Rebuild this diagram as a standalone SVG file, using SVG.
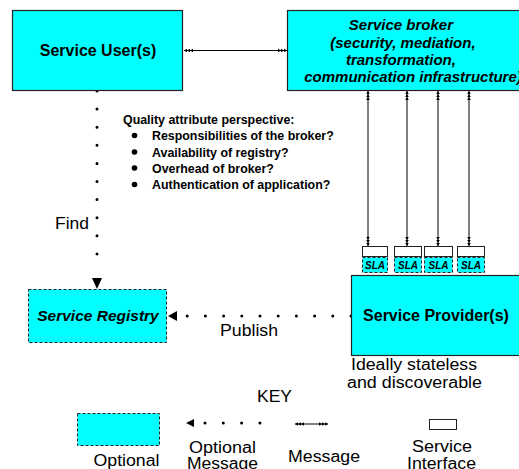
<svg xmlns="http://www.w3.org/2000/svg" width="519" height="469" viewBox="0 0 519 469">
<style>
.box{fill:#00ffff;stroke:#222;stroke-width:1.2}
.opt{fill:#00ffff;stroke:#222;stroke-width:1;stroke-dasharray:3 2}
.iface{fill:#fff;stroke:#222;stroke-width:1}
.msg{stroke:#000;stroke-width:1;fill:none}
.dots{stroke:#000;stroke-width:3;stroke-linecap:round;fill:none}
.t{font-family:"Liberation Sans",Arial,sans-serif;fill:#000}
.n{font-size:16px}
.b{font-weight:bold}
.i{font-style:italic}
</style>
<defs>
<marker id="dbl" viewBox="0 0 9 6" refX="9" refY="3" markerWidth="9" markerHeight="6" markerUnits="userSpaceOnUse" orient="auto-start-reverse">
<path d="M9,3 L6,1.2 L6,4.8 Z M6,3 L3,1.2 L3,4.8 Z M3,3 L0,1.2 L0,4.8 Z" fill="#000"/>
</marker>
</defs>
<g id="connectors">
<line class="msg" x1="184" y1="50.5" x2="287" y2="50.5" marker-start="url(#dbl)" marker-end="url(#dbl)"/>
<line class="msg" x1="368" y1="91" x2="368" y2="246" marker-start="url(#dbl)" marker-end="url(#dbl)"/>
<line class="msg" x1="407" y1="91" x2="407" y2="246" marker-start="url(#dbl)" marker-end="url(#dbl)"/>
<line class="msg" x1="438" y1="91" x2="438" y2="246" marker-start="url(#dbl)" marker-end="url(#dbl)"/>
<line class="msg" x1="469" y1="91" x2="469" y2="246" marker-start="url(#dbl)" marker-end="url(#dbl)"/>
<path class="dots" d="M97,91 V272" stroke-dasharray="0 18.1"/>
<polygon points="92,278 102,278 97,289" fill="#000"/>
<path class="dots" d="M351,316 H187" stroke-dasharray="0 18.2"/>
<polygon points="168,316 177,311 177,321" fill="#000"/>
<text class="t n" x="55" y="228.5" textLength="34" lengthAdjust="spacingAndGlyphs">Find</text>
<text class="t n" x="220" y="336" textLength="58" lengthAdjust="spacingAndGlyphs">Publish</text>
</g>
<g id="service-user">
<rect class="box" x="12.5" y="10.5" width="170" height="80"/>
<text class="t b" x="98" y="55.5" font-size="16" text-anchor="middle">Service User(s)</text>
</g>
<g id="service-broker">
<rect class="box" x="287.5" y="10.5" width="240" height="80"/>
<text class="t b i" font-size="15" text-anchor="middle">
<tspan x="403" y="30">Service broker</tspan>
<tspan x="405" y="47.5">(security, mediation,</tspan>
<tspan x="403" y="65">transformation,</tspan>
<tspan x="413" y="81.5">communication infrastructure)</tspan>
</text>
</g>
<g id="service-registry">
<rect class="opt" x="28.5" y="289.5" width="138" height="53"/>
<text class="t b i" x="98" y="321" font-size="15.5" text-anchor="middle">Service Registry</text>
</g>
<g id="service-provider">
<rect class="box" x="351.5" y="275.5" width="180" height="80"/>
<text class="t b" x="436" y="321" font-size="16" text-anchor="middle">Service Provider(s)</text>
<text class="t n" x="351" y="370" textLength="126" lengthAdjust="spacingAndGlyphs">Ideally stateless</text>
<text class="t n" x="347" y="388" textLength="135" lengthAdjust="spacingAndGlyphs">and discoverable</text>
</g>
<g id="interfaces">
<rect class="iface" x="362.5" y="246.5" width="25" height="10"/>
<rect class="iface" x="394.5" y="246.5" width="27" height="10"/>
<rect class="iface" x="424.5" y="246.5" width="28" height="10"/>
<rect class="iface" x="457.5" y="246.5" width="27" height="10"/>
<rect class="opt" x="362.5" y="257.5" width="25" height="15"/>
<rect class="opt" x="394.5" y="257.5" width="27" height="15"/>
<rect class="opt" x="424.5" y="257.5" width="28" height="15"/>
<rect class="opt" x="457.5" y="257.5" width="27" height="15"/>
<g class="t b i" font-size="10" text-anchor="middle">
<text x="375" y="269">SLA</text>
<text x="408" y="269">SLA</text>
<text x="438.5" y="269">SLA</text>
<text x="471" y="269">SLA</text>
</g>
</g>
<g id="quality-notes" class="t b" font-size="12.4">
<text x="123" y="124">Quality attribute perspective:</text>
<circle cx="134.5" cy="135.5" r="2.8"/>
<circle cx="134.5" cy="152" r="2.8"/>
<circle cx="134.5" cy="168" r="2.8"/>
<circle cx="134.5" cy="184.5" r="2.8"/>
<text x="152" y="140">Responsibilities of the broker?</text>
<text x="152" y="156.5">Availability of registry?</text>
<text x="152" y="172.5">Overhead of broker?</text>
<text x="152" y="189">Authentication of application?</text>
</g>
<g id="key">
<text class="t n" x="257" y="401.5" textLength="35" lengthAdjust="spacingAndGlyphs">KEY</text>
<rect class="opt" x="77.5" y="413.5" width="82" height="32"/>
<text class="t n" x="93.5" y="465.5" textLength="66" lengthAdjust="spacingAndGlyphs">Optional</text>
<polygon points="186,423 194,419 194,427" fill="#000"/>
<path class="dots" d="M205,423 H260" stroke-dasharray="0 18.3"/>
<text class="t n" x="189" y="452.5" textLength="67" lengthAdjust="spacingAndGlyphs">Optional</text>
<text class="t n" x="187" y="469" textLength="71" lengthAdjust="spacingAndGlyphs">Message</text>
<line class="msg" x1="295" y1="424" x2="328" y2="424" marker-start="url(#dbl)" marker-end="url(#dbl)"/>
<text class="t n" x="288" y="462" textLength="72" lengthAdjust="spacingAndGlyphs">Message</text>
<rect class="iface" x="429.5" y="419.5" width="27" height="10"/>
<text class="t n" x="412" y="451.5" textLength="60" lengthAdjust="spacingAndGlyphs">Service</text>
<text class="t n" x="407" y="469" textLength="69" lengthAdjust="spacingAndGlyphs">Interface</text>
</g>
</svg>
